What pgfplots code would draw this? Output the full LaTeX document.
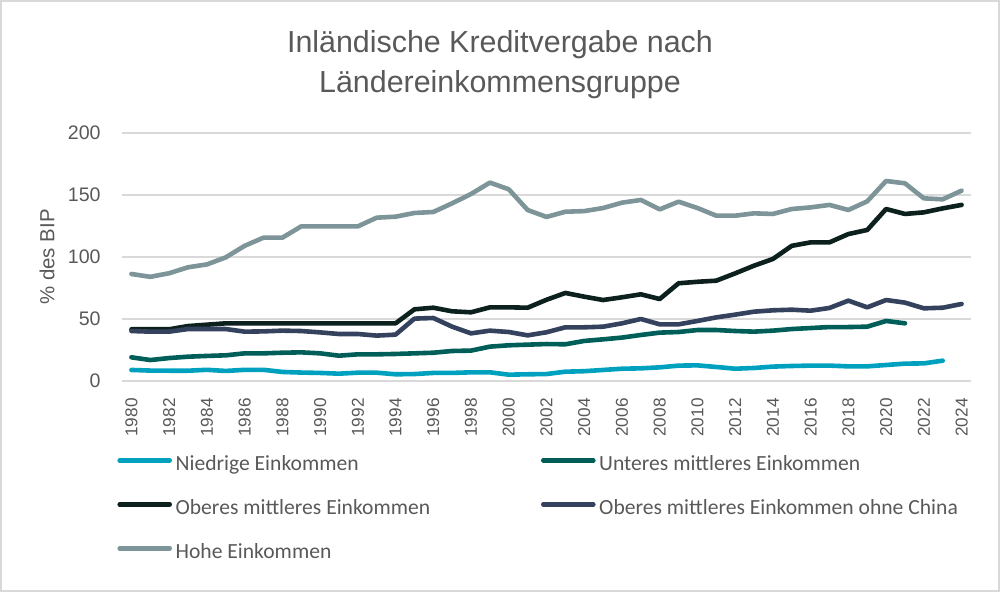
\documentclass[border=0pt]{standalone}
\usepackage{fontspec}
\setmainfont{Liberation Sans}
\newfontfamily\legfont{Carlito}
\usepackage{pgfplots}
\pgfplotsset{compat=1.18}

\definecolor{niedrig}{RGB}{0,161,190}
\definecolor{unteres}{RGB}{0,94,88}
\definecolor{oberes}{RGB}{12,32,30}
\definecolor{ohnechina}{RGB}{52,66,94}
\definecolor{hohe}{RGB}{125,148,152}
\definecolor{gridgray}{RGB}{217,217,217}
\definecolor{txtgray}{RGB}{89,89,89}

\begin{document}
\begin{tikzpicture}
\useasboundingbox (0,0) rectangle (500pt,296pt);
\draw[gridgray, line width=1pt] (0.5pt,0.5pt) rectangle (499.5pt,295.5pt);

\node[anchor=base, text=txtgray, font=\fontsize{15.2}{17}\selectfont] at (250pt,269.5pt) {Inländische Kreditvergabe nach};
\node[anchor=base, text=txtgray, font=\fontsize{15.2}{17}\selectfont] at (250pt,249.8pt) {Ländereinkommensgruppe};

\begin{axis}[
at={(61pt,105.5pt)}, anchor=south west,
scale only axis,
width=424.5pt, height=124pt,
xmin=1979.5, xmax=2024.5,
ymin=0, ymax=200,
clip=false,
axis line style={draw=none},
tick style={draw=none},
major tick length=0pt,
ymajorgrids,
major grid style={gridgray, line width=0.75pt},
xtick={1980,1982,...,2024},
ytick={0,50,100,150,200},
xticklabel style={yshift=-8.5pt, rotate=90, anchor=east, inner sep=0pt, text=txtgray, font=\fontsize{8.6}{10}\selectfont},
yticklabel style={xshift=-10.5pt, anchor=east, inner sep=0pt, text=txtgray, font=\fontsize{9.8}{11}\selectfont},
/pgf/number format/1000 sep={},
/pgf/number format/assume math mode=true,
ylabel={\% des BIP},
every axis y label/.style={at={(axis description cs:0,0.5)}, xshift=-37.5pt, rotate=90, anchor=center, text=txtgray, font=\fontsize{10.2}{12}\selectfont},
legend columns=2,
legend cell align={left},
legend style={
  at={(-0.00589,-0.3089)}, anchor=north west,
  draw=none, fill=none, inner sep=0pt,
  row sep=14pt,
  font=\legfont\fontsize{10.8}{12}\selectfont, text=txtgray,
  nodes={inner sep=0pt, text height=6pt, text depth=2pt},
  /tikz/every odd column/.append style={column sep=1.8pt},
  /tikz/every even column/.append style={column sep=10.7pt},
},
legend image code/.code={\draw[#1] (0pt,2.8pt) -- (25pt,2.8pt);},
every axis plot/.append style={line width=2.3pt, line join=round, line cap=round},
]
\addplot[niedrig] table {%
1980 8.9
1981 8.4
1982 8.3
1983 8.3
1984 9.0
1985 8.1
1986 9.0
1987 9.0
1988 7.3
1989 6.8
1990 6.5
1991 5.9
1992 6.7
1993 6.7
1994 5.4
1995 5.6
1996 6.5
1997 6.5
1998 7.0
1999 7.0
2000 5.1
2001 5.4
2002 5.6
2003 7.5
2004 7.9
2005 8.9
2006 9.9
2007 10.2
2008 11.0
2009 12.4
2010 12.6
2011 11.3
2012 9.9
2013 10.5
2014 11.6
2015 12.1
2016 12.4
2017 12.4
2018 11.8
2019 11.8
2020 12.9
2021 14.0
2022 14.2
2023 16.4
};
\addlegendentry{\makebox[172pt][l]{Niedrige Einkommen}}
\addplot[unteres] table {%
1980 19.1
1981 16.9
1982 18.5
1983 19.6
1984 20.2
1985 20.7
1986 22.3
1987 22.3
1988 22.8
1989 23.1
1990 22.3
1991 20.4
1992 21.5
1993 21.5
1994 21.8
1995 22.3
1996 22.8
1997 24.2
1998 24.5
1999 27.7
2000 28.8
2001 29.3
2002 29.8
2003 29.6
2004 32.3
2005 33.6
2006 35.0
2007 37.1
2008 39.0
2009 39.5
2010 41.1
2011 41.1
2012 40.3
2013 39.8
2014 40.6
2015 41.9
2016 42.7
2017 43.5
2018 43.5
2019 43.8
2020 48.4
2021 46.5
};
\addlegendentry{Unteres mittleres Einkommen}
\addplot[oberes] table {%
1980 41.7
1981 41.7
1982 41.7
1983 44.3
1984 45.4
1985 46.5
1986 46.5
1987 46.5
1988 46.5
1989 46.5
1990 46.5
1991 46.5
1992 46.5
1993 46.5
1994 46.5
1995 57.8
1996 59.1
1997 56.2
1998 55.4
1999 59.4
2000 59.4
2001 59.1
2002 65.5
2003 71.0
2004 68.0
2005 65.3
2006 67.5
2007 69.9
2008 66.1
2009 78.8
2010 80.0
2011 80.9
2012 86.8
2013 93.0
2014 98.4
2015 109.0
2016 111.8
2017 111.8
2018 118.5
2019 121.8
2020 138.7
2021 134.7
2022 136.0
2023 139.2
2024 142.0
};
\addlegendentry{\makebox[172pt][l]{Oberes mittleres Einkommen}}
\addplot[ohnechina] table {%
1980 40.3
1981 39.8
1982 39.8
1983 41.9
1984 41.9
1985 41.9
1986 39.8
1987 40.0
1988 40.6
1989 40.3
1990 39.2
1991 37.9
1992 37.9
1993 36.6
1994 37.4
1995 50.3
1996 50.8
1997 43.8
1998 38.4
1999 40.6
2000 39.5
2001 36.8
2002 39.3
2003 43.3
2004 43.3
2005 43.8
2006 46.5
2007 50.0
2008 45.7
2009 45.7
2010 48.4
2011 51.3
2012 53.5
2013 55.9
2014 57.0
2015 57.5
2016 56.7
2017 58.9
2018 64.8
2019 59.4
2020 65.3
2021 63.2
2022 58.6
2023 59.1
2024 62.1
};
\addlegendentry{Oberes mittleres Einkommen ohne China}
\addplot[hohe] table {%
1980 86.3
1981 84.0
1982 86.9
1983 91.7
1984 94.0
1985 99.7
1986 109.0
1987 115.6
1988 115.6
1989 124.7
1990 124.7
1991 124.7
1992 124.7
1993 131.7
1994 132.5
1995 135.5
1996 136.3
1997 143.3
1998 150.8
1999 160.0
2000 154.6
2001 137.9
2002 132.3
2003 136.5
2004 137.0
2005 139.5
2006 143.8
2007 146.0
2008 138.4
2009 144.6
2010 139.5
2011 133.3
2012 133.3
2013 135.2
2014 134.7
2015 138.7
2016 140.0
2017 142.0
2018 137.9
2019 144.9
2020 161.3
2021 159.4
2022 147.3
2023 146.5
2024 153.5
};
\addlegendentry{\makebox[172pt][l]{Hohe Einkommen}}
\end{axis}
\end{tikzpicture}
\end{document}
